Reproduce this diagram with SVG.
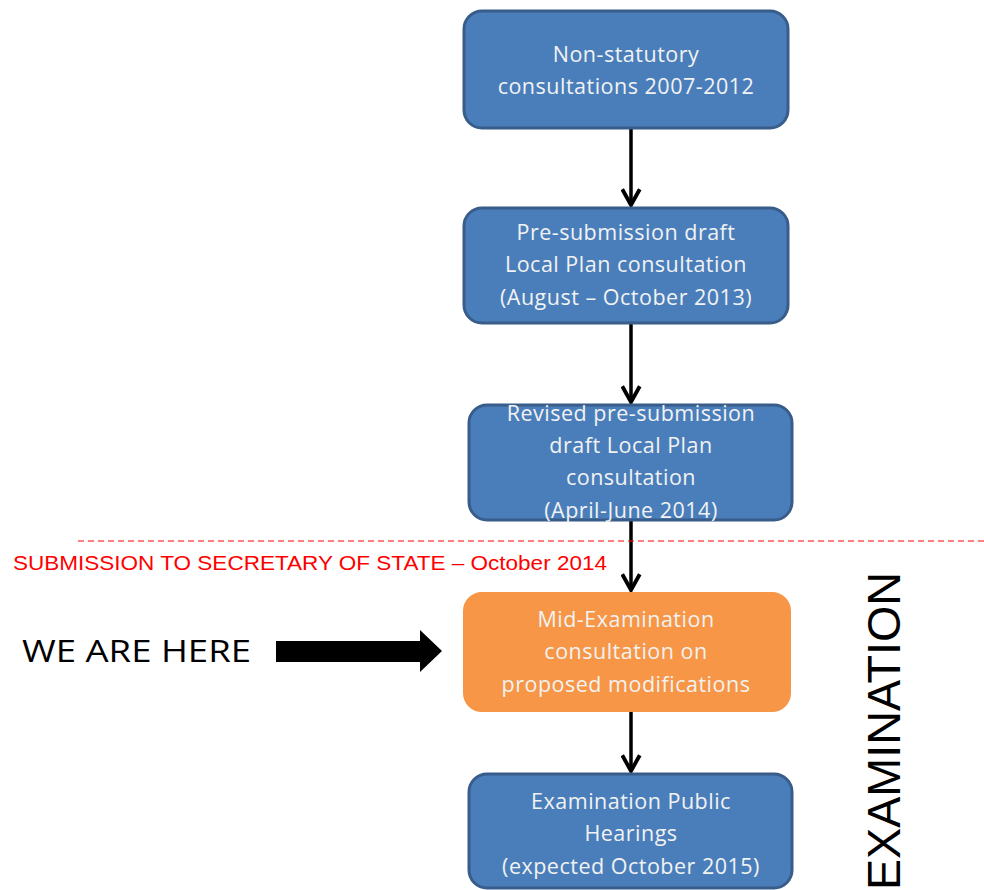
<svg xmlns="http://www.w3.org/2000/svg" width="984" height="890" viewBox="0 0 984 890">
<defs>
<style>
.box{fill:#4a7ebb;stroke:#385d8a;stroke-width:3}
.orange{fill:#f79646;stroke:#f79646;stroke-width:2}
.bt{font-family:"Open Sans","Liberation Sans",sans-serif;font-size:21.5px;letter-spacing:0.5px;fill:#f2f2f2;text-anchor:middle}
.conn{stroke:#000;stroke-width:3.5;fill:none}
</style>
<marker id="ah" viewBox="0 0 12 12" refX="10" refY="6" markerWidth="6" markerHeight="6" orient="auto" markerUnits="strokeWidth">
<path d="M1,1 L10,6 L1,11" fill="none" stroke="#000" stroke-width="2.2"/>
</marker>
</defs>
<rect width="984" height="890" fill="#fff"/>
<g id="connectors">
<line class="conn" x1="631" y1="128" x2="631" y2="205" marker-end="url(#ah)"/>
<line class="conn" x1="631" y1="323" x2="631" y2="402" marker-end="url(#ah)"/>
<line class="conn" x1="631" y1="520" x2="631" y2="590" marker-end="url(#ah)"/>
<line class="conn" x1="631" y1="711" x2="631" y2="771" marker-end="url(#ah)"/>
</g>
<g id="n1">
<rect class="box" x="464" y="11" width="324" height="117" rx="18"/>
<text class="bt" x="626" y="62">Non-statutory</text>
<text class="bt" x="626" y="94">consultations 2007-2012</text>
</g>
<g id="n2">
<rect class="box" x="464" y="208" width="324" height="115" rx="18"/>
<text class="bt" x="626" y="240">Pre-submission draft</text>
<text class="bt" x="626" y="272">Local Plan consultation</text>
<text class="bt" x="626" y="305">(August  – October 2013)</text>
</g>
<g id="n3">
<rect class="box" x="469" y="405" width="323" height="115" rx="18"/>
<text class="bt" x="631" y="421">Revised pre-submission</text>
<text class="bt" x="631" y="453">draft Local Plan</text>
<text class="bt" x="631" y="485">consultation</text>
<text class="bt" x="631" y="518">(April-June 2014)</text>
</g>
<g id="n4">
<rect class="orange" x="464" y="593" width="326" height="118" rx="18"/>
<text class="bt" x="626" y="627">Mid-Examination</text>
<text class="bt" x="626" y="659">consultation on</text>
<text class="bt" x="626" y="692">proposed modifications</text>
</g>
<g id="n5">
<rect class="box" x="469" y="774" width="323" height="114" rx="18"/>
<text class="bt" x="631" y="809">Examination Public</text>
<text class="bt" x="631" y="841">Hearings</text>
<text class="bt" x="631" y="874">(expected October 2015)</text>
</g>
<g id="submission">
<line x1="78" y1="541" x2="984" y2="541" stroke="#ff0000" stroke-width="1" stroke-dasharray="6,4"/>
<text x="13" y="570" font-family="'Liberation Sans',sans-serif" font-size="21" fill="#ff0000" textLength="594" lengthAdjust="spacingAndGlyphs">SUBMISSION TO SECRETARY OF STATE – October 2014</text>
</g>
<g id="here">
<text x="22" y="662" font-family="'Open Sans','Liberation Sans',sans-serif" font-size="31" fill="#000" textLength="229" lengthAdjust="spacingAndGlyphs">WE ARE HERE</text>
<path d="M276,641 L420,641 L420,630 L442,651 L420,672 L420,662 L276,662 Z" fill="#000"/>
</g>
<g id="examination">
<text transform="translate(900,890) rotate(-90)" x="0" y="0" font-family="'Liberation Sans',sans-serif" font-size="46" fill="#000" textLength="318" lengthAdjust="spacingAndGlyphs">EXAMINATION</text>
</g>
</svg>
